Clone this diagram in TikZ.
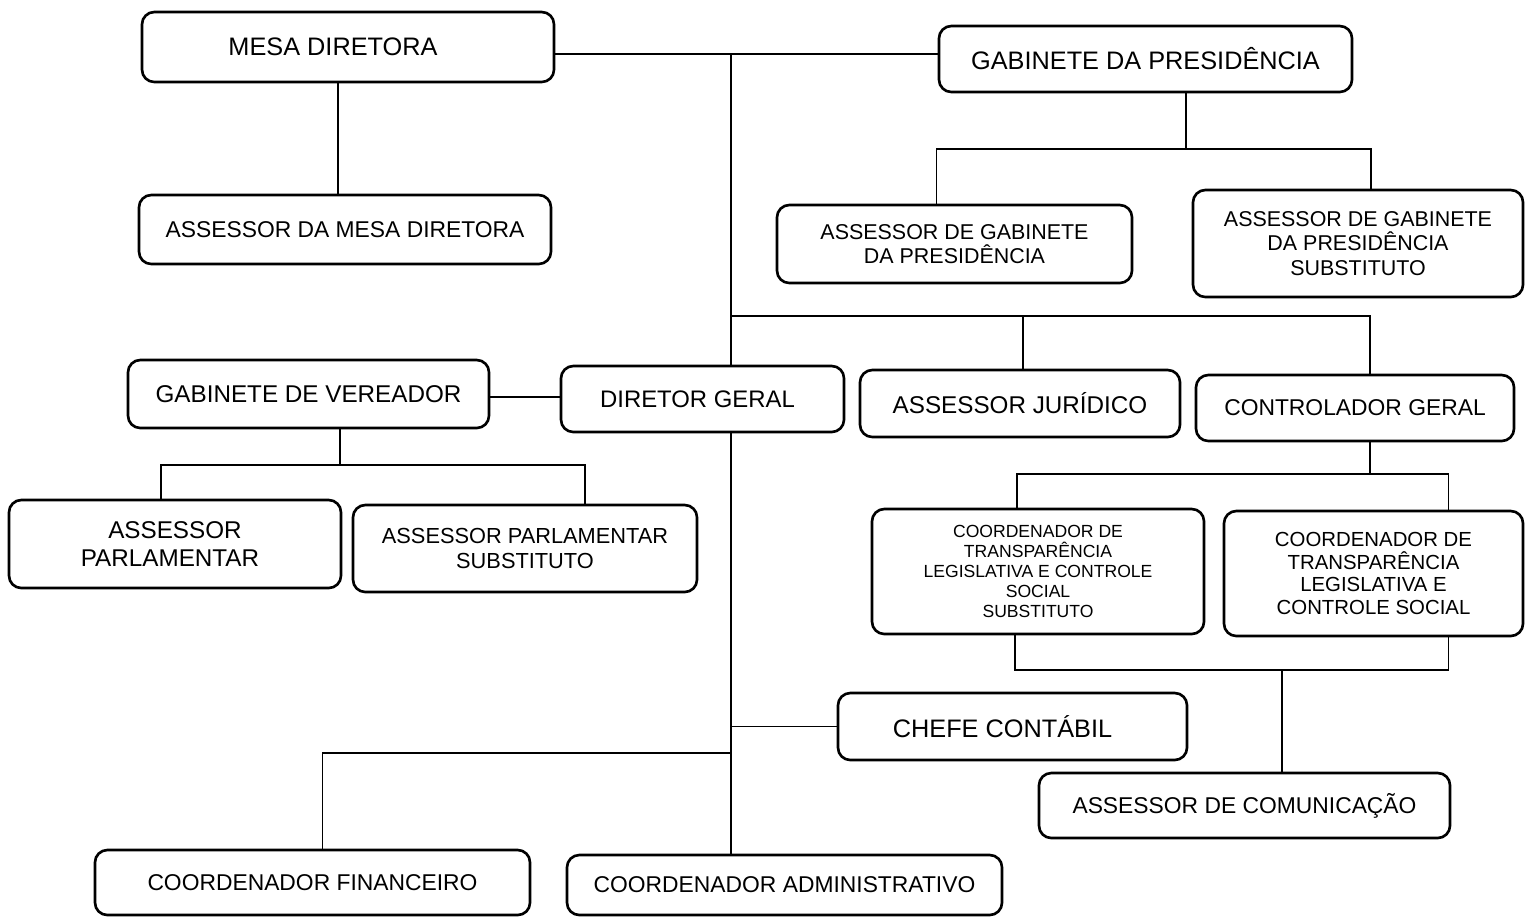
\documentclass[tikz,border=0pt]{standalone}
\usepackage{fontspec}
\setmainfont{Liberation Sans}

\tikzset{
  unit/.style={draw, line width=0.75pt, rounded corners=3.5pt, align=center, inner sep=0pt},
  fs/.style 2 args={font=\fontsize{#1}{#2}\selectfont},
  link/.style={line width=0.35pt}
}

\begin{document}
\begin{tikzpicture}
	%%%%% FRAME %%%%%
	\useasboundingbox (0,0) rectangle (15.25,-9.17);
	
	%%%%% TOP ROW %%%%%
	\node[unit, fs={7.2}{8.5}, minimum width=4.12cm, minimum height=0.70cm] (mesa) at (3.48,-0.47) {MESA DIRETORA\hspace*{3mm}};
	\node[unit, fs={7.2}{8.5}, minimum width=4.13cm, minimum height=0.66cm] (gabpres) at (11.455,-0.59) {GABINETE DA PRESIDÊNCIA};
	
	\node[unit, fs={6.5}{7.5}, minimum width=4.12cm, minimum height=0.69cm] (asmesa) at (3.45,-2.295) {ASSESSOR DA MESA DIRETORA};
	\node[unit, fs={6.1}{7.0}, minimum width=3.55cm, minimum height=0.78cm] (asgab) at (9.545,-2.44) {ASSESSOR DE GABINETE\\DA PRESIDÊNCIA};
	\node[unit, fs={6.1}{6.9}, minimum width=3.30cm, minimum height=1.07cm] (assub) at (13.58,-2.435) {ASSESSOR DE GABINETE\\DA PRESIDÊNCIA\\SUBSTITUTO};
	
	%%%%% MIDDLE ROW %%%%%
	\node[unit, fs={6.9}{8.0}, minimum width=3.61cm, minimum height=0.68cm] (gabver) at (3.085,-3.94) {GABINETE DE VEREADOR};
	\node[unit, fs={6.8}{8.0}, minimum width=2.83cm, minimum height=0.66cm] (dir) at (7.025,-3.99) {DIRETOR GERAL\hspace*{1mm}};
	\node[unit, fs={6.9}{8.0}, minimum width=3.20cm, minimum height=0.67cm] (jur) at (10.20,-4.035) {ASSESSOR JURÍDICO};
	\node[unit, fs={6.5}{7.5}, minimum width=3.18cm, minimum height=0.66cm] (contr) at (13.55,-4.08) {CONTROLADOR GERAL};
	
	\node[unit, fs={6.9}{7.9}, minimum width=3.32cm, minimum height=0.88cm] (asparl) at (1.75,-5.44) {ASSESSOR\\PARLAMENTAR\hspace*{1mm}};
	\node[unit, fs={6.2}{6.9}, minimum width=3.44cm, minimum height=0.87cm] (asparlsub) at (5.25,-5.485) {ASSESSOR PARLAMENTAR\\SUBSTITUTO};
	\node[unit, fs={5.0}{5.7}, minimum width=3.32cm, minimum height=1.25cm] (coordsub) at (10.38,-5.715) {COORDENADOR DE\\TRANSPARÊNCIA\\LEGISLATIVA E CONTROLE\\SOCIAL\\SUBSTITUTO};
	\node[unit, fs={5.8}{6.5}, minimum width=2.99cm, minimum height=1.25cm] (coord) at (13.735,-5.735) {COORDENADOR DE\\TRANSPARÊNCIA\\LEGISLATIVA E\\CONTROLE SOCIAL};
	
	%%%%% BOTTOM ROW %%%%%
	\node[unit, fs={7.2}{8.5}, minimum width=3.49cm, minimum height=0.67cm] (chefe) at (10.125,-7.265) {CHEFE CONTÁBIL\hspace*{2mm}};
	\node[unit, fs={6.5}{7.5}, minimum width=4.11cm, minimum height=0.65cm] (comunic) at (12.445,-8.055) {ASSESSOR DE COMUNICAÇÃO};
	\node[unit, fs={6.5}{7.5}, minimum width=4.35cm, minimum height=0.65cm] (coordfin) at (3.125,-8.825) {COORDENADOR FINANCEIRO};
	\node[unit, fs={6.5}{7.5}, minimum width=4.35cm, minimum height=0.60cm] (coordadm) at (7.845,-8.85) {COORDENADOR ADMINISTRATIVO};
	
	%%%%% LINKS %%%%%
	\coordinate (trunk) at (7.31,-0.54);
	\coordinate (gpbar) at (11.86,-1.49);
	\coordinate (jbar) at (7.31,-3.16);
	\coordinate (vbar) at (3.40,-4.65);
	\coordinate (cbar) at (13.70,-4.74);
	\coordinate (kbar) at (12.82,-6.70);
	\coordinate (fbar) at (7.31,-7.53);
	
	\draw[link] (mesa.east |- trunk) -- (gabpres.west |- trunk);
	\draw[link] (trunk) -- (trunk |- dir.north);
	\draw[link] (trunk |- dir.south) -- (trunk |- coordadm.north);
	\draw[link] ([xshift=-1mm]mesa.south) -- ([xshift=-1mm]mesa.south |- asmesa.north);
	
	\draw[link] (gpbar |- gabpres.south) -- (gpbar);
	\draw[link] ([xshift=-1.8mm]asgab.north) |- (gpbar) -| ([xshift=1.3mm]assub.north);
	
	\draw[link] (jbar) -| ([xshift=1.5mm]contr.north);
	\draw[link] ([xshift=0.3mm]jur.north) -- ([xshift=0.3mm]jur.north |- jbar);
	
	\draw[link] ([yshift=-0.3mm]gabver.east) -- ([yshift=-0.3mm]gabver.east -| dir.west);
	\draw[link] (vbar |- gabver.south) -- (vbar);
	\draw[link] ([xshift=-1.4mm]asparl.north) |- (vbar) -| ([xshift=6mm]asparlsub.north);
	
	\draw[link] (cbar |- contr.south) -- (cbar);
	\draw[link] ([xshift=-2.1mm]coordsub.north) |- (cbar) -| ([xshift=7.5mm]coord.north);
	
	\draw[link] ([xshift=-2.3mm]coordsub.south) |- (kbar) -| ([xshift=7.5mm]coord.south);
	\draw[link] (kbar) -- (kbar |- comunic.north);
	
	\draw[link] (trunk |- chefe.west) -- (chefe.west);
	\draw[link] (fbar) -| ([xshift=1mm]coordfin.north);
	
\end{tikzpicture}
\end{document}
